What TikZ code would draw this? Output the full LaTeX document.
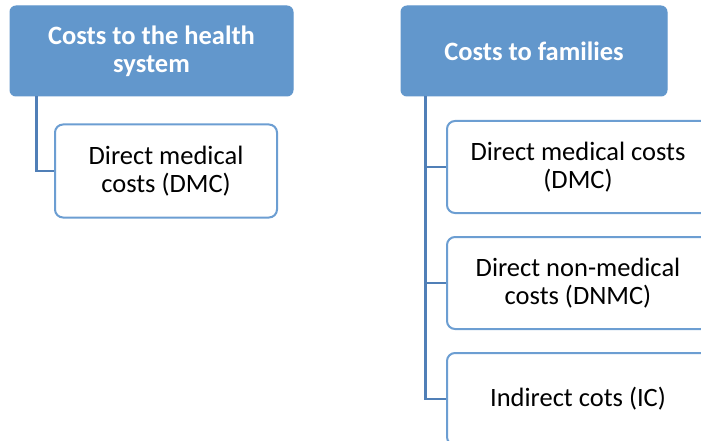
\documentclass[tikz,border=0pt]{standalone}
\usepackage{fontspec}
\setmainfont{Carlito}
\usetikzlibrary{positioning}
\definecolor{headblue}{RGB}{98,151,204}
\definecolor{edgeblue}{RGB}{108,158,210}
\definecolor{lineblue}{RGB}{80,127,183}

\begin{document}
\begin{tikzpicture}[x=1pt, y=-1pt,
    head/.style={draw=headblue, fill=headblue, rounded corners=6pt, line width=1pt,
      text=white, font=\fontsize{26.5}{28}\selectfont\bfseries, align=center,
      inner sep=0pt, minimum height=90pt},
    item/.style={draw=edgeblue, fill=white, rounded corners=8pt, line width=2pt,
      font=\fontsize{26.5}{28}\selectfont, align=center, inner sep=0pt},
    conn/.style={draw=lineblue, line width=2.5pt}]
      % page is 701 x 441, origin at upper left corner
      \clip (0, 0) rectangle (701, 441);
      \def\hgt{92}
      \node [head, minimum width=283pt] (hsys) at (151.5, 51) {Costs to the health\\system};
      \node [head, minimum width=266pt] (hfam) at (534, 51) {Costs to families};

      \node [item, minimum width=222pt, minimum height=93pt] (sdmc) at (166, 171) {Direct medical\\costs (DMC)};
      \node [item, minimum width=262pt, minimum height=\hgt pt] (fdmc) at (578, 167) {Direct medical costs\\(DMC)};
      \node [item, minimum width=262pt, minimum height=\hgt pt] (fdnmc) at (578, 283) {Direct non-medical\\costs (DNMC)};
      \node [item, minimum width=262pt, minimum height=\hgt pt] (fic) at (578, 399) {Indirect cots (IC)};

      \draw [conn] ([xshift=27pt]hsys.south west) |- (sdmc.west);
      \draw [conn] ([xshift=25pt]hfam.south west) |- (fdmc.west);
      \draw [conn] ([xshift=25pt]hfam.south west) |- (fdnmc.west);
      \draw [conn] ([xshift=25pt]hfam.south west) |- (fic.west);
\end{tikzpicture}
\end{document}
